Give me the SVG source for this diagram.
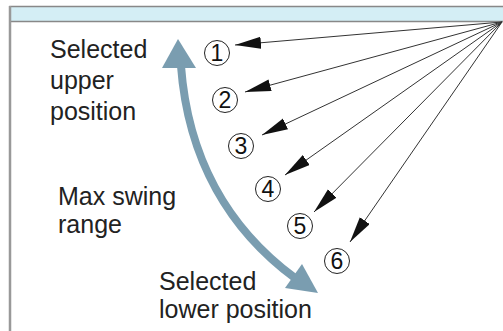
<svg xmlns="http://www.w3.org/2000/svg" width="503" height="331" viewBox="0 0 503 331">
<defs>
<style>
.lbl{font-family:"Liberation Sans",Arial,sans-serif;font-size:25px;fill:#222}
.num{font-family:"Liberation Sans",Arial,sans-serif;font-size:23px;fill:#111;text-anchor:middle}
.ray{stroke:#333;stroke-width:1;fill:none;marker-end:url(#ah)}
.ring{fill:#fff;stroke:#222;stroke-width:1}
.swing{stroke:#7a9db0;fill:none;stroke-width:8}
.swinghead{fill:#7a9db0}
</style>
<marker id="ah" markerUnits="userSpaceOnUse" markerWidth="27" markerHeight="13" refX="26" refY="6" orient="auto">
<path d="M0,0 L26,6 L0,12 z" fill="#111"/>
</marker>
</defs>
<rect width="503" height="331" fill="#fff"/>
<g id="frame">
<rect x="10" y="6.5" width="500" height="15" fill="#d4eef5" stroke="#888" stroke-width="1.5"/>
<line x1="10" y1="6" x2="10" y2="331" stroke="#999" stroke-width="2.5"/>
</g>
<g id="connectors">
<line class="ray" x1="502" y1="22" x2="235" y2="45"/>
<line class="ray" x1="502" y1="22" x2="245" y2="92"/>
<line class="ray" x1="502" y1="22" x2="262" y2="135"/>
<line class="ray" x1="502" y1="22" x2="285" y2="175"/>
<line class="ray" x1="502" y1="22" x2="314" y2="212"/>
<line class="ray" x1="502" y1="22" x2="350" y2="242"/>
</g>
<g id="swing-range">
<path class="swing" d="M181,66 C188,160 230,230 295,278"/>
<polygon class="swinghead" points="178,39 162,68 196,68"/>
<polygon class="swinghead" points="318,293 302,264 285,288"/>
</g>
<g id="pos1"><circle class="ring" cx="217" cy="53" r="12.5"/><text class="num" x="217" y="61">1</text></g>
<g id="pos2"><circle class="ring" cx="225" cy="100" r="12.5"/><text class="num" x="225" y="108">2</text></g>
<g id="pos3"><circle class="ring" cx="241" cy="146" r="12.5"/><text class="num" x="241" y="154">3</text></g>
<g id="pos4"><circle class="ring" cx="268" cy="189" r="12.5"/><text class="num" x="268" y="197">4</text></g>
<g id="pos5"><circle class="ring" cx="300" cy="226" r="12.5"/><text class="num" x="300" y="234">5</text></g>
<g id="pos6"><circle class="ring" cx="337" cy="261" r="12.5"/><text class="num" x="337" y="269">6</text></g>
<g id="label-upper">
<text class="lbl" x="50" y="58">Selected</text>
<text class="lbl" x="50" y="89">upper</text>
<text class="lbl" x="50" y="120">position</text>
</g>
<g id="label-range">
<text class="lbl" x="58" y="205">Max swing</text>
<text class="lbl" x="58" y="233">range</text>
</g>
<g id="label-lower">
<text class="lbl" x="159" y="290">Selected</text>
<text class="lbl" x="159" y="318">lower position</text>
</g>
</svg>
